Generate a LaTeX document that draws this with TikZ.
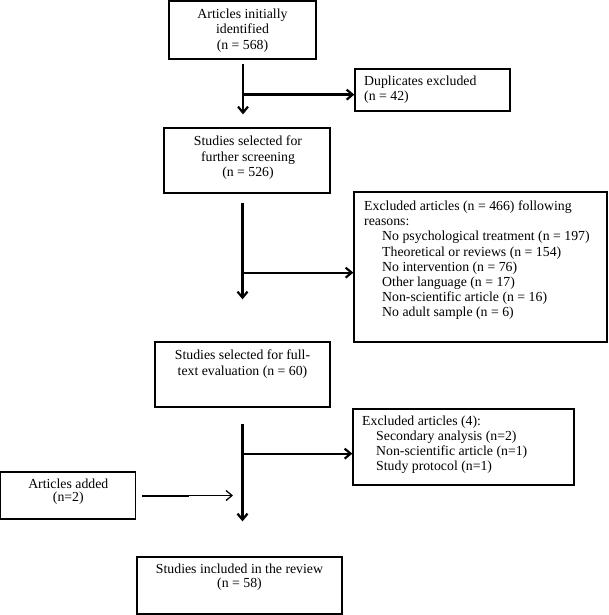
\documentclass[tikz,border=0pt]{standalone}
\usepackage{fontspec}
\setmainfont{Liberation Serif}
\usetikzlibrary{arrows.meta,calc}
\begin{document}
\begin{tikzpicture}[x=1pt,y=-1pt,
  box/.style={draw=black,line width=1.3pt,rectangle,inner sep=0pt,fill=white},
  txt/.style={inner sep=0pt,font=\fontsize{13.8}{15.2}\selectfont,anchor=north},
  arr/.style={draw=black,line width=2.3pt,-{Straight Barb[length=6pt,width=10pt,line width=2.2pt]}},
  thinarr/.style={draw=black,line width=1.1pt,-{Straight Barb[length=6pt,width=10pt,line width=1.3pt]}}]
\useasboundingbox (0,0) rectangle (609,615);
% boxes
\node[box,minimum width=147pt,minimum height=58pt] (b1) at (242.5,30) {};
\node[box,minimum width=155pt,minimum height=42pt] (dup) at (432.5,90) {};
\node[box,minimum width=166pt,minimum height=65pt] (b3) at (247,160.5) {};
\node[box,minimum width=253pt,minimum height=150pt] (excl) at (480.5,267) {};
\node[box,minimum width=175pt,minimum height=65pt] (b5) at (242.5,374.5) {};
\node[box,minimum width=221pt,minimum height=76pt] (excl4) at (463.5,447) {};
\node[box,minimum width=135pt,minimum height=47pt] (added) at (68.3,495.5) {};
\node[box,minimum width=205pt,minimum height=57pt] (b6) at (239.5,585.5) {};
% texts
\node[txt,align=center] (t1) at (242.5,9) {Articles initially\\identified\\(n = 568)};
\node[txt,align=left,anchor=north west] (tdup) at (364,76) {Duplicates excluded\\(n = 42)};
\node[txt,align=center] (t3) at (248,136) {Studies selected for\\further screening\\(n = 526)};
\node[txt,align=left,anchor=north west] (texcl) at (364,200.5) {Excluded articles (n = 466) following\\reasons:\\
\hspace*{18pt}No psychological treatment (n = 197)\\
\hspace*{18pt}Theoretical or reviews (n = 154)\\
\hspace*{18pt}No intervention (n = 76)\\
\hspace*{18pt}Other language (n = 17)\\
\hspace*{18pt}Non-scientific article (n = 16)\\
\hspace*{18pt}No adult sample (n = 6)};
\node[txt,align=center] (t5) at (242.5,350) {Studies selected for full-\\text evaluation (n = 60)};
\node[txt,align=left,anchor=north west] (texcl4) at (362,415.5) {Excluded articles (4):\\
\hspace*{14pt}Secondary analysis (n=2)\\
\hspace*{14pt}Non-scientific article (n=1)\\
\hspace*{14pt}Study protocol (n=1)};
\node[txt,align=center,font=\fontsize{13.8}{13}\selectfont] (tadd) at (68.3,479) {Articles added\\(n=2)};
\node[txt,align=center,font=\fontsize{13.8}{14}\selectfont] (t6) at (239.5,564) {Studies included in the review\\(n = 58)};
% connectors
\coordinate (j1) at ($(b1.south)+(0.5,35)$);
\coordinate (j2) at ($(b5.north |- b3.south)+(0,79)$);
\coordinate (j3) at ($(b5.south)+(0,46)$);
\draw[arr,shorten <=4pt,shorten >=13pt] ($(b1.south)+(0.5,0)$) -- ($(b1.south |- b3.north)+(0.5,0)$);
\draw[arr] (j1) -- (j1 -| dup.west);
\draw[arr,shorten <=9pt,shorten >=42pt] (b5.north |- b3.south) -- (b5.north);
\draw[arr] (j2) -- (j2 -| excl.west);
\draw[arr,shorten <=16pt,shorten >=35pt] (b5.south) -- (b5.south |- b6.north);
\draw[arr] (j3) -- (j3 -| excl4.west);
\draw[thinarr,shorten <=6pt,shorten >=9.5pt] (added.east) -- (b5.south |- added.east);
\draw[draw=black,line width=2pt,shorten <=6pt] (added.east) -- ($(added.east)+(53,0)$);
\end{tikzpicture}
\end{document}
